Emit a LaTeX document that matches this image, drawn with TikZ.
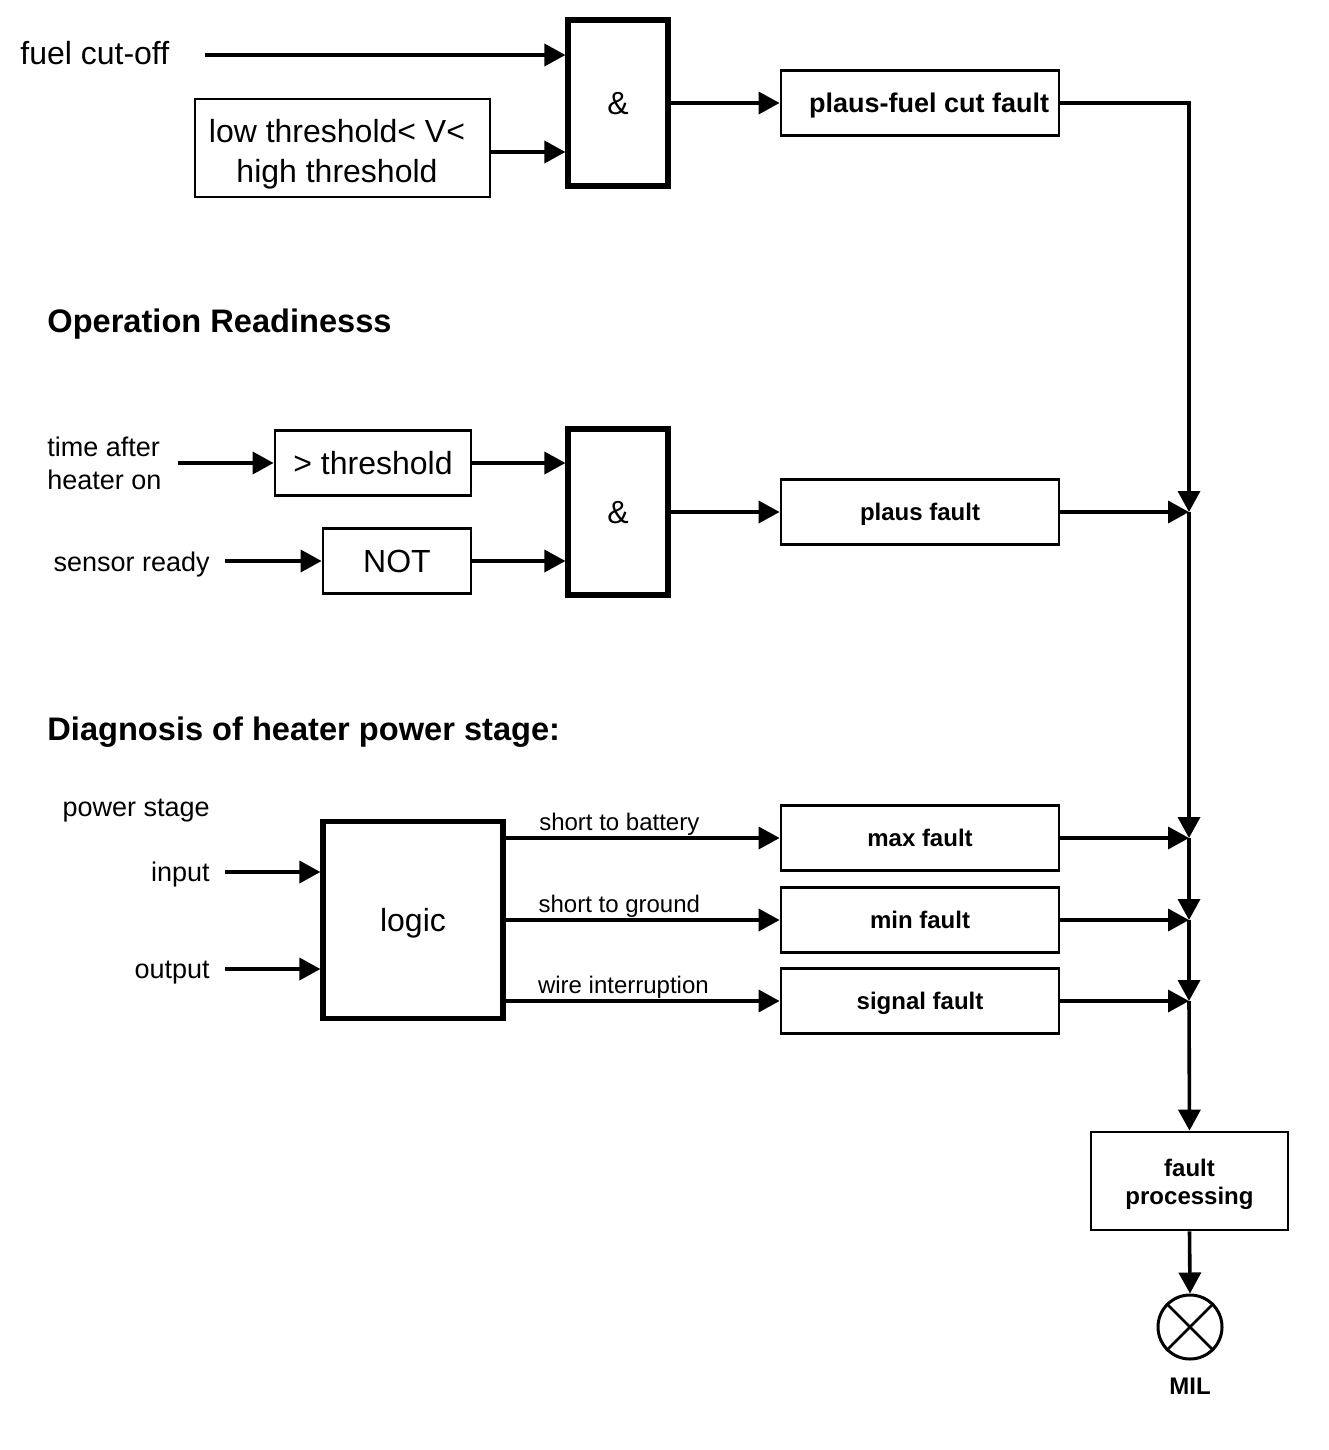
\documentclass[tikz,border=0pt]{standalone}
\usepackage{fontspec}
\setmainfont{Liberation Sans}
\usetikzlibrary{arrows.meta,calc}
\begin{document}
\begin{tikzpicture}[x=0.5pt,y=-0.5pt,
  arr/.style={line width=1.8pt,-{Triangle[length=10.5pt,width=11pt]}},
  box/.style={draw,line width=1.4pt,inner sep=0pt,align=center},
  big/.style={font=\fontsize{16}{20}\selectfont},
  bigh/.style={big,text height=11.6pt,text depth=0pt},
  gate/.style={draw,line width=2.6pt,inner sep=0pt,align=center,bigh},
  lbl/.style={font=\fontsize{13.5}{16.5}\selectfont,text height=9.8pt,text depth=0pt,inner sep=0pt},
  small/.style={font=\fontsize{12}{14}\selectfont,text height=8.7pt,text depth=0pt},
  fbox/.style={box,minimum width=139pt,minimum height=32.5pt,font=\bfseries\fontsize{12}{14.5}\selectfont,text height=8.7pt,text depth=0pt},
  head/.style={font=\bfseries\fontsize{16.3}{19}\selectfont,anchor=west,inner sep=0pt,text height=11.8pt,text depth=0pt}
]
\useasboundingbox (0,0) rectangle (1328,1450);

% ---------- top section ----------
\node[bigh,anchor=west,inner sep=0pt] (fuel) at (20,53) {fuel cut-off};
\node[box,big,text depth=0pt,minimum width=147.5pt,minimum height=49pt] (low) at (342.5,148) {\rule{0pt}{14.6pt}low threshold< V<\hspace*{5.5pt}\\high threshold\hspace*{5.5pt}};
\node[gate,minimum width=50pt,minimum height=83pt] (and1) at (618,103) {\&};
\node[box,minimum width=139pt,minimum height=32.5pt,font=\bfseries\fontsize{13.5}{16}\selectfont,text height=9.8pt,text depth=0pt] (pf) at (920,103) {\hspace*{9pt}plaus-fuel cut fault};

\draw[arr] ($(fuel.east)+(35,2)$) -- (and1.west |- 0,55);
\draw[arr] (low.east |- 0,152) -- (and1.west |- 0,152);
\draw[arr] (and1.east) -- (pf.west);

% ---------- operation readiness ----------
\node[head] (h1) at (47,321) {Operation Readinesss};
\node[font=\fontsize{13.5}{16.5}\selectfont,anchor=west,inner sep=0pt,align=left] (tah) at (47,463.5) {time after\\heater on};
\node[box,bigh,minimum width=98pt,minimum height=32.5pt] (thr) at (373,463) {> threshold};
\node[lbl,anchor=east] (sr) at (210,562) {sensor ready};
\node[box,bigh,minimum width=74pt,minimum height=32.5pt] (not) at (397,561) {NOT};
\node[gate,minimum width=50pt,minimum height=83pt] (and2) at (618,512) {\&};
\node[fbox] (pl) at (920,512) {plaus fault};

\coordinate (tahs) at ([xshift=8pt]tah.east);
\coordinate (srs) at ([xshift=7.5pt]sr.east);
\draw[arr] (tahs |- thr.west) -- (thr.west);
\draw[arr] (srs |- not.west) -- (not.west);
\draw[arr] (thr.east) -- (and2.west |- thr);
\draw[arr] (not.east) -- (and2.west |- not);
\draw[arr] (and2.east) -- (pl.west);

% ---------- diagnosis ----------
\node[head] (h2) at (47,729) {Diagnosis of heater power stage:};
\node[lbl,anchor=east] (ps) at (210,807) {power stage};
\node[lbl,anchor=east] (inp) at (210,872) {input};
\node[lbl,anchor=east] (outp) at (210,969) {output};
\node[gate,minimum width=90pt,minimum height=98.5pt] (logic) at (413,920) {logic};
\node[fbox] (maxf) at (920,838) {max fault};
\node[fbox] (minf) at (920,920) {min fault};
\node[fbox] (sigf) at (920,1001) {signal fault};

\draw[arr] ($(inp.east)+(15,0)$) -- (logic.west |- inp);
\draw[arr] ($(outp.east)+(15,0)$) -- (logic.west |- outp);
\draw[arr] (logic.east |- maxf) -- node[small,above,pos=0.415,inner sep=3pt] (l1) {short to battery} (maxf.west);
\draw[arr] (logic.east |- minf) -- node[small,above,pos=0.415,inner sep=3pt] (l2) {short to ground} (minf.west);
\draw[arr] (logic.east |- sigf) -- node[small,above,pos=0.43,inner sep=3pt] (l3) {wire interruption} (sigf.west);

% ---------- bus ----------
\coordinate (j1) at (1189,512);
\coordinate (j2) at (1189,838);
\coordinate (j3) at (1189,920);
\coordinate (j4) at (1189,1001);
\node[box,text depth=0pt,minimum width=98.5pt,minimum height=49pt,font=\bfseries\fontsize{12}{14}\selectfont] (fp) at (1189.5,1181) {\rule{0pt}{9.7pt}fault\\processing};
\node[draw,circle,line width=1.5pt,minimum size=32pt,inner sep=0pt] (mil) at (1190,1327) {};
\draw[line width=1.3pt] (mil.north west) -- (mil.south east);
\draw[line width=1.3pt] (mil.north east) -- (mil.south west);
\node[font=\bfseries\fontsize{12}{14}\selectfont,anchor=north,inner sep=0pt] (miltxt) at (1190,1378) {MIL};

\draw[arr] (pf.east) -| (j1);
\draw[arr] (pl.east) -- (j1);
\draw[arr] (maxf.east) -- (j2);
\draw[arr] (minf.east) -- (j3);
\draw[arr] (sigf.east) -- (j4);
\draw[arr] (j1) -- (j2);
\draw[arr] (j2) -- (j3);
\draw[arr] (j3) -- (j4);
\draw[arr] (j4) -- (fp.north);
\draw[arr] (fp.south) -- (mil.north);
\end{tikzpicture}
\end{document}
